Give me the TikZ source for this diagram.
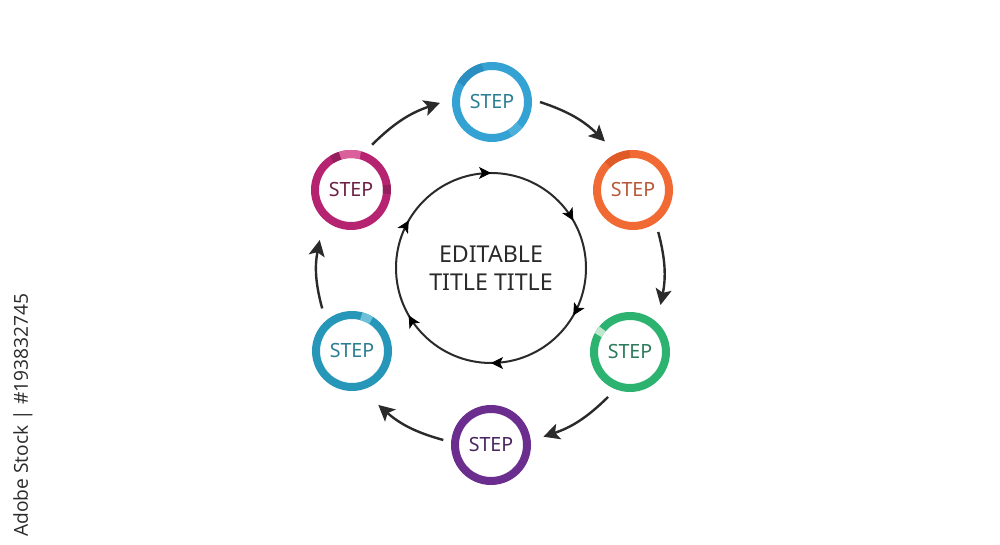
\documentclass[tikz,border=0pt]{standalone}
\usepackage{fontspec}
\setmainfont{Noto Sans}
\newfontfamily\sidefont{Open Sans}
\usetikzlibrary{arrows.meta,decorations.markings,calc}
\definecolor{ink}{HTML}{2A2A2A}
\definecolor{cBlue}{HTML}{34A2D3}
\definecolor{cBlueD}{HTML}{2A8FC0}
\definecolor{cBlueL}{HTML}{4DB0DB}
\definecolor{tBlue}{HTML}{2B7F95}
\definecolor{cOrange}{HTML}{F26A33}
\definecolor{cOrangeD}{HTML}{E05A28}
\definecolor{tOrange}{HTML}{B85838}
\definecolor{cGreen}{HTML}{2DB370}
\definecolor{cGreenL}{HTML}{BFE8CF}
\definecolor{tGreen}{HTML}{2E7A5C}
\definecolor{cPurple}{HTML}{6B2E8F}
\definecolor{tPurple}{HTML}{4A2660}
\definecolor{cTeal}{HTML}{2697B8}
\definecolor{cTealL}{HTML}{6CC1D8}
\definecolor{tTeal}{HTML}{2B7E93}
\definecolor{cMag}{HTML}{B62371}
\definecolor{cMagL}{HTML}{D9609A}
\definecolor{cMagD}{HTML}{951F5C}
\definecolor{tMag}{HTML}{6D2046}
\begin{document}
\begin{tikzpicture}[x=0.5pt,y=0.5pt,
  stepring/.style={circle, minimum size=36pt, inner sep=0pt, outer sep=0pt,
    line width=4pt, draw=#1, fill=white, font=\fontsize{9.8}{11}\selectfont},
  flowarrow/.style={draw=ink, line width=1.2pt,
    -{Stealth[length=8pt,width=8pt,inset=1.8pt]}},
  accent/.style={line width=4pt, draw=#1, line cap=butt},
  hubcircle/.style={circle, minimum size=95pt, inner sep=0pt, outer sep=0pt,
    draw=ink, line width=1pt, align=center, text=ink,
    font=\fontsize{11.6}{14}\selectfont},
  hubarrows/.style={decorate, decoration={markings,
    mark=at position 1/12 with {\arrow{Stealth[length=6pt,width=6pt,inset=1.5pt]}},
    mark=at position 3/12 with {\arrow{Stealth[length=6pt,width=6pt,inset=1.5pt]}},
    mark=at position 5/12 with {\arrow{Stealth[length=6pt,width=6pt,inset=1.5pt]}},
    mark=at position 7/12 with {\arrow{Stealth[length=6pt,width=6pt,inset=1.5pt]}},
    mark=at position 9/12 with {\arrow{Stealth[length=6pt,width=6pt,inset=1.5pt]}},
    mark=at position 11/12 with {\arrow{Stealth[length=6pt,width=6pt,inset=1.5pt]}}}}
]
\useasboundingbox (0,0) rectangle (1000,545);
\fill[white] (0,0) rectangle (1000,545);

% center
\node[hubcircle] (hub) at (491,277) {EDITABLE\\TITLE TITLE};
\path[draw=ink, hubarrows] (hub.120) arc[start angle=120, end angle=-240, radius=95];

% steps
\node[stepring=cBlue, text=tBlue]     (s1) at (492,443) {STEP};
\node[stepring=cOrange, text=tOrange] (s2) at (633,355) {STEP};
\node[stepring=cGreen, text=tGreen]   (s3) at (630,193) {STEP};
\node[stepring=cPurple, text=tPurple] (s4) at (491,100) {STEP};
\node[stepring=cTeal, text=tTeal]     (s5) at (352,194) {STEP};
\node[stepring=cMag, text=tMag]       (s6) at (351,355) {STEP};

% ring accents
\draw[accent=cBlueD]  ([shift={(105:36)}]s1.center) arc[start angle=105, end angle=150, radius=36];
\draw[accent=cBlueL]  ([shift={(-40:36)}]s1.center) arc[start angle=-40, end angle=-60, radius=36];
\draw[accent=cOrangeD]([shift={(95:36)}]s2.center) arc[start angle=95, end angle=135, radius=36];
\draw[accent=cGreenL] ([shift={(140:36)}]s3.center) arc[start angle=140, end angle=152, radius=36];
\draw[accent=cTealL]  ([shift={(58:36)}]s5.center) arc[start angle=58, end angle=75, radius=36];
\draw[accent=cMagL]   ([shift={(75:36)}]s6.center) arc[start angle=75, end angle=108, radius=36];
\draw[accent=cMagD]   ([shift={(108:36)}]s6.center) arc[start angle=108, end angle=122, radius=36];
\draw[accent=cMagD]   ([shift={(-6:36)}]s6.center) arc[start angle=-6, end angle=8, radius=36];

% flow arrows
\draw[flowarrow] ($(s1)+(0:48)$)    to[bend left=13] ($(s2)+(120:56)$);
\draw[flowarrow] ($(s2)+(-59:49)$)  to[bend left=13] ($(s3)+(57:56)$);
\draw[flowarrow] ($(s3)+(-116:50)$) to[bend left=13] ($(s4)+(9:53)$);
\draw[flowarrow] ($(s4)+(174:48)$)  to[bend left=13] ($(s5)+(-64:60)$);
\draw[flowarrow] ($(s5)+(125:52)$)  to[bend left=13] ($(s6)+(-122:59)$);
\draw[flowarrow] ($(s6)+(65:50)$)   to[bend left=13] ($(s1)+(181:52)$);

% side label
\node[rotate=90, anchor=west, inner sep=0pt, text=ink,
      font=\sidefont\fontsize{9.6}{11}\selectfont] (side) at (23,8) {Adobe Stock | \#193832745};
\end{tikzpicture}
\end{document}
